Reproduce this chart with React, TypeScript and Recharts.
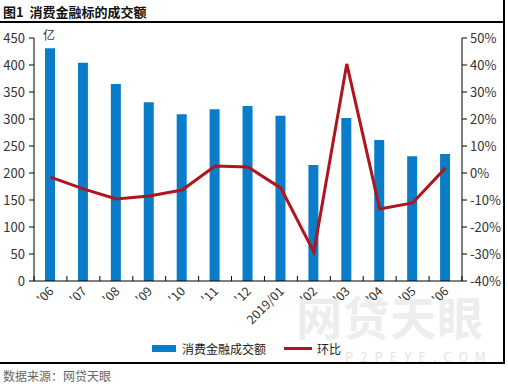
import React from 'react';
import { ComposedChart, Bar, Line, XAxis, YAxis } from 'recharts';

const months = ["'06", "'07", "'08", "'09", "'10", "'11", "'12", '2019/01', "'02", "'03", "'04", "'05", "'06"];
const volume = [431, 404, 365, 331, 309, 318, 324, 306, 215, 302, 261, 231, 235];
const momChange = [-1.5, -5.9, -9.6, -8.5, -6.3, 2.6, 2.2, -5.6, -29.3, 40.4, -13.3, -11.1, 1.9];
const leftTicks = [0, 50, 100, 150, 200, 250, 300, 350, 400, 450];
const rightTicks = [-40, -30, -20, -10, 0, 10, 20, 30, 40, 50];

const chartData = months.map((m, i) => ({ name: m, volume: volume[i], mom: momChange[i] }));

const FONT = '"Noto Sans CJK SC", "Noto Sans", sans-serif';
const BLUE = '#0a7cc8';
const RED = '#b0141c';

const XTick = (props: any) => {
  const { x, y, payload, index } = props;
  const half = payload && payload.offset ? payload.offset : 428 / 13 / 2;
  return (
    <g>
      <line x1={x + half} y1={y} x2={x + half} y2={y - 5} stroke="#000" strokeWidth={1} />
      {index === 0 && <line x1={x - half} y1={y} x2={x - half} y2={y - 5} stroke="#000" strokeWidth={1} />}
      <text
        x={x + 4}
        y={y + 11}
        textAnchor="end"
        fontSize={12.5}
        fill="#333"
        fontFamily={FONT}
        transform={`rotate(-45, ${x + 4}, ${y + 11})`}
      >
        {payload.value}
      </text>
    </g>
  );
};

export default function App() {
  return (
    <div style={{ position: 'relative', width: 508, height: 386, background: '#fff', fontFamily: FONT, overflow: 'hidden' }}>
      <style>{`body{margin:0}`}</style>
      {/* watermark */}
      <div style={{ position: 'absolute', left: 296, top: 290, fontSize: 46, fontWeight: 700, color: '#ededed', letterSpacing: 1, lineHeight: '50px', whiteSpace: 'nowrap' }}>网贷天眼</div>
      <div style={{ position: 'absolute', left: 345, top: 350, fontSize: 13, color: '#e4e4e4', letterSpacing: 7, lineHeight: '14px', whiteSpace: 'nowrap' }}>P2PEYE.COM</div>

      <div style={{ position: 'absolute', left: 3, top: 2, fontSize: 13, fontWeight: 700, color: '#111', whiteSpace: 'pre' }}>图1  消费金融标的成交额</div>
      <div style={{ position: 'absolute', left: 0, top: 21, width: 505, height: 2, background: '#000' }} />
      <div style={{ position: 'absolute', left: 503, top: 0, width: 2, height: 364, background: '#000' }} />
      <div style={{ position: 'absolute', left: 0, top: 362, width: 505, height: 2, background: '#000' }} />
      <div style={{ position: 'absolute', left: 3, top: 367, fontSize: 12, color: '#666' }}>数据来源：网贷天眼</div>
      <div style={{ position: 'absolute', left: 43, top: 26, fontSize: 12, color: '#333' }}>亿</div>

      <div style={{ position: 'absolute', left: 0, top: 0 }}>
        <ComposedChart width={508} height={386} data={chartData} margin={{ top: 38, right: 0, bottom: 0, left: 0 }} barCategoryGap={0}>
          <XAxis
            dataKey="name"
            height={105}
            tickSize={0}
            tickMargin={0}
            tickLine={false}
            axisLine={{ stroke: '#000' }}
            interval={0}
            tick={<XTick />}
          />
          <YAxis
            yAxisId="left"
            width={34}
            domain={[0, 450]}
            ticks={leftTicks}
            interval={0}
            tickSize={5}
            tickMargin={4}
            axisLine={{ stroke: '#000' }}
            tickLine={{ stroke: '#000' }}
            tick={{ fontSize: 13, fill: '#333', fontFamily: FONT }}
          />
          <YAxis
            yAxisId="right"
            orientation="right"
            width={46}
            domain={[-40, 50]}
            ticks={rightTicks}
            interval={0}
            tickSize={5}
            tickMargin={3}
            axisLine={{ stroke: '#000' }}
            tickLine={{ stroke: '#000' }}
            tickFormatter={(v: number) => `${v}%`}
            tick={{ fontSize: 13, fill: '#333', fontFamily: FONT }}
          />
          <Bar yAxisId="left" dataKey="volume" name="消费金融成交额" fill={BLUE} barSize={10} isAnimationActive={false} />
          <Line yAxisId="right" dataKey="mom" name="环比" type="linear" stroke={RED} strokeWidth={3} dot={false} isAnimationActive={false} />
        </ComposedChart>
      </div>

      <div style={{ position: 'absolute', top: 340, left: 152, display: 'flex', alignItems: 'center', fontSize: 12, color: '#222' }}>
        <span style={{ display: 'inline-block', width: 24, height: 7, background: BLUE, marginRight: 6 }} />
        <span>消费金融成交额</span>
        <span style={{ display: 'inline-block', width: 28, height: 3, background: RED, marginLeft: 18, marginRight: 5 }} />
        <span>环比</span>
      </div>
    </div>
  );
}
